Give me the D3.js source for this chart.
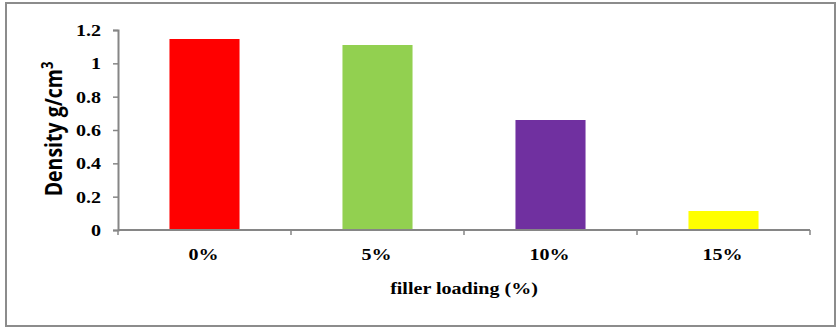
<!DOCTYPE html>
<html>
<head>
<meta charset="utf-8">
<script src="https://cdn.jsdelivr.net/npm/d3@7"></script>
<style>
  html, body { margin: 0; padding: 0; background: #fff; }
  svg { display: block; }
  .serif { font-family: "Liberation Serif", "Times New Roman", Tinos, "DejaVu Serif", serif; font-weight: bold; font-size: 17px; }
  .sans { font-family: "Open Sans", "Liberation Sans", sans-serif; font-weight: bold; }
</style>
</head>
<body>
<svg id="chart" width="837" height="333"></svg>
<script>
// Density of the composite at each filler loading
const categories = ["0%", "5%", "10%", "15%"];
const density = [1.146, 1.11, 0.66, 0.114];
const barColors = ["#ff0000", "#92d050", "#7030a0", "#ffff00"];
const yTicks = [0, 0.2, 0.4, 0.6, 0.8, 1, 1.2];

// text is drawn slightly wider than tall
const stretch = 1.18;

const svg = d3.select("#chart");

// chart frame
svg.append("rect")
  .attr("x", 6).attr("y", 3)
  .attr("width", 829).attr("height", 323)
  .attr("fill", "#fff")
  .attr("stroke", "#8c8c8c")
  .attr("stroke-width", 2);

const plot = { left: 118, right: 810, top: 30, bottom: 230 };

const x = d3.scaleBand()
  .domain(categories)
  .range([plot.left, plot.right])
  .paddingInner(0.595)
  .paddingOuter(0.2975);

const y = d3.scaleLinear()
  .domain([0, 1.2])
  .range([plot.bottom, plot.top]);

// bars
svg.append("g").selectAll("rect")
  .data(categories)
  .join("rect")
  .attr("x", d => x(d))
  .attr("y", (d, i) => y(density[i]))
  .attr("width", x.bandwidth())
  .attr("height", (d, i) => y(0) - y(density[i]))
  .attr("fill", (d, i) => barColors[i]);

// y axis
const yAxis = d3.axisLeft(y)
  .tickValues(yTicks)
  .tickFormat(d => String(d))
  .tickSize(5)
  .tickPadding(12);

const gy = svg.append("g")
  .attr("transform", `translate(${plot.left},0)`)
  .call(yAxis)
  .attr("font-family", null)
  .attr("font-size", null);
gy.select(".domain").attr("stroke", "#868686").attr("stroke-width", 2);
gy.selectAll(".tick line").attr("stroke", "#868686").attr("stroke-width", 1.5);
gy.selectAll(".tick text")
  .attr("class", "serif")
  .attr("x", 0)
  .attr("transform", `translate(-17,0) scale(${stretch},1)`)
  .attr("fill", "#000");

// x axis with ticks on category boundaries
const gx = svg.append("g")
  .attr("transform", `translate(0,${plot.bottom})`);
gx.append("line")
  .attr("x1", plot.left).attr("x2", plot.right)
  .attr("y1", 0).attr("y2", 0)
  .attr("stroke", "#868686").attr("stroke-width", 2);
const boundaries = d3.range(categories.length + 1)
  .map(i => plot.left + i * (plot.right - plot.left) / categories.length);
gx.selectAll("line.tk")
  .data(boundaries)
  .join("line")
  .attr("class", "tk")
  .attr("x1", d => d).attr("x2", d => d)
  .attr("y1", 0).attr("y2", 5)
  .attr("stroke", "#868686").attr("stroke-width", 1.5);
gx.selectAll("text")
  .data(categories)
  .join("text")
  .attr("class", "serif")
  .attr("transform", d => `translate(${x(d) + x.bandwidth() / 2 - 1},29.5) scale(${stretch},1)`)
  .attr("text-anchor", "middle")
  .attr("fill", "#000")
  .text(d => d);

// axis titles
svg.append("text")
  .attr("class", "serif")
  .attr("transform", `translate(${(plot.left + plot.right) / 2},294) scale(${stretch},1)`)
  .attr("text-anchor", "middle")
  .attr("fill", "#000")
  .text("filler loading (%)");

const yt = svg.append("text")
  .attr("class", "sans")
  .attr("transform", `translate(62,${(plot.top + plot.bottom) / 2 - 1}) rotate(-90) scale(1,${stretch})`)
  .attr("text-anchor", "middle")
  .style("font-size", "19.5px")
  .attr("fill", "#000");
yt.append("tspan").text("Density g/cm");
yt.append("tspan").attr("dy", -8).style("font-size", "13px").text("3");
</script>
</body>
</html>
